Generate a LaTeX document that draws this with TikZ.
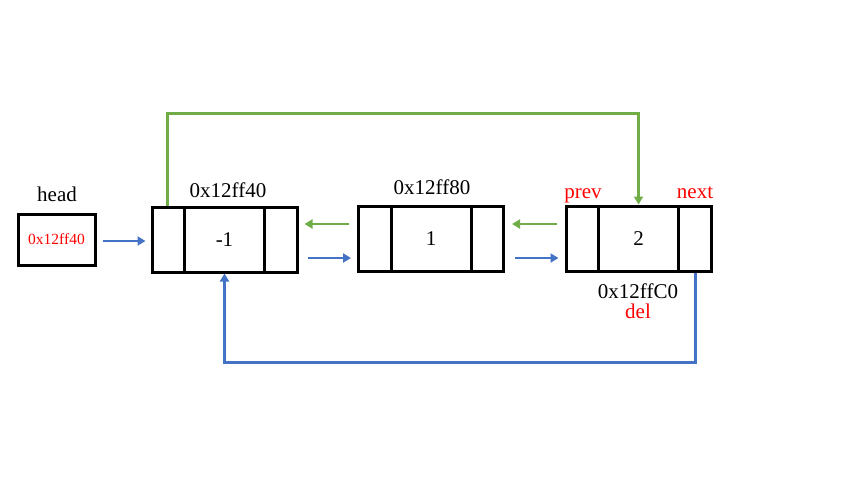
\documentclass[tikz,border=0pt]{standalone}
\usepackage{fontspec}
\setmainfont{Liberation Serif}
\usetikzlibrary{arrows.meta,calc}
\definecolor{lgreen}{HTML}{70AD47}
\definecolor{lblue}{HTML}{4472C4}
\begin{document}
\begin{tikzpicture}[x=1pt,y=-1pt,
  cell/.style={draw=black,line width=3pt,minimum width=145pt,minimum height=65pt,inner sep=0pt,font=\fontsize{21}{21}\selectfont},
  headbox/.style={draw=black,line width=3pt,minimum width=77pt,minimum height=51pt,inner sep=0pt,text=red,font=\fontsize{15.5}{15.5}\selectfont},
  lbl/.style={font=\fontsize{21}{21}\selectfont,inner sep=0pt,anchor=base},
  rlbl/.style={lbl,text=red},
  garrow/.style={draw=lgreen,line width=2.8pt,-{Triangle[length=8pt,width=9pt]}},
  barrow/.style={draw=lblue,line width=2.8pt,-{Triangle[length=8pt,width=9pt]}}]
\useasboundingbox (0,0) rectangle (853,480);
\node[headbox] (head) at (56.5,239.5) {0x12ff40};
\node[lbl] (headl) at (57,201) {head};
\node[cell] (n1) at (224.5,239.5) {-1};
\node[cell] (n2) at (431,238.5) {1};
\node[cell] (n3) at (638.5,238.5) {2};
\foreach \n in {n1,n2,n3}{
  \draw[line width=3pt] ([xshift=34pt]\n.north west) -- ([xshift=34pt]\n.south west);
  \draw[line width=3pt] ([xshift=-34pt]\n.north east) -- ([xshift=-34pt]\n.south east);
}
\node[lbl] (a1) at (228,197) {0x12ff40};
\node[lbl] (a2) at (432,194.5) {0x12ff80};
\node[rlbl] (prev) at (583,198) {prev};
\node[rlbl] (next) at (695,198) {next};
\node[lbl] (a3) at (638,298) {0x12ffC0};
\node[rlbl] (del) at (638,318.5) {del};
% straight arrows
\draw[barrow] ([xshift=6pt,yshift=-1.5pt]head.east) -- ([xshift=-5pt,yshift=-1.5pt]n1.west);
\draw[garrow] ([xshift=-8pt]n2.west |- 0,224) -- ([xshift=6pt]n1.east |- 0,224);
\draw[barrow] ([xshift=9pt]n1.east |- 0,258) -- ([xshift=-6pt]n2.west |- 0,258);
\draw[garrow] ([xshift=-8pt]n3.west |- 0,224) -- ([xshift=7pt]n2.east |- 0,224);
\draw[barrow] ([xshift=10pt]n2.east |- 0,258) -- ([xshift=-6pt]n3.west |- 0,258);
% loops
\draw[garrow] ([xshift=17pt]n1.north west) -- ++(0,-92) -| (n3.north);
\draw[barrow] ([xshift=-17pt]n3.south east) -- ++(0,90) -| (n1.south);
\end{tikzpicture}
\end{document}
